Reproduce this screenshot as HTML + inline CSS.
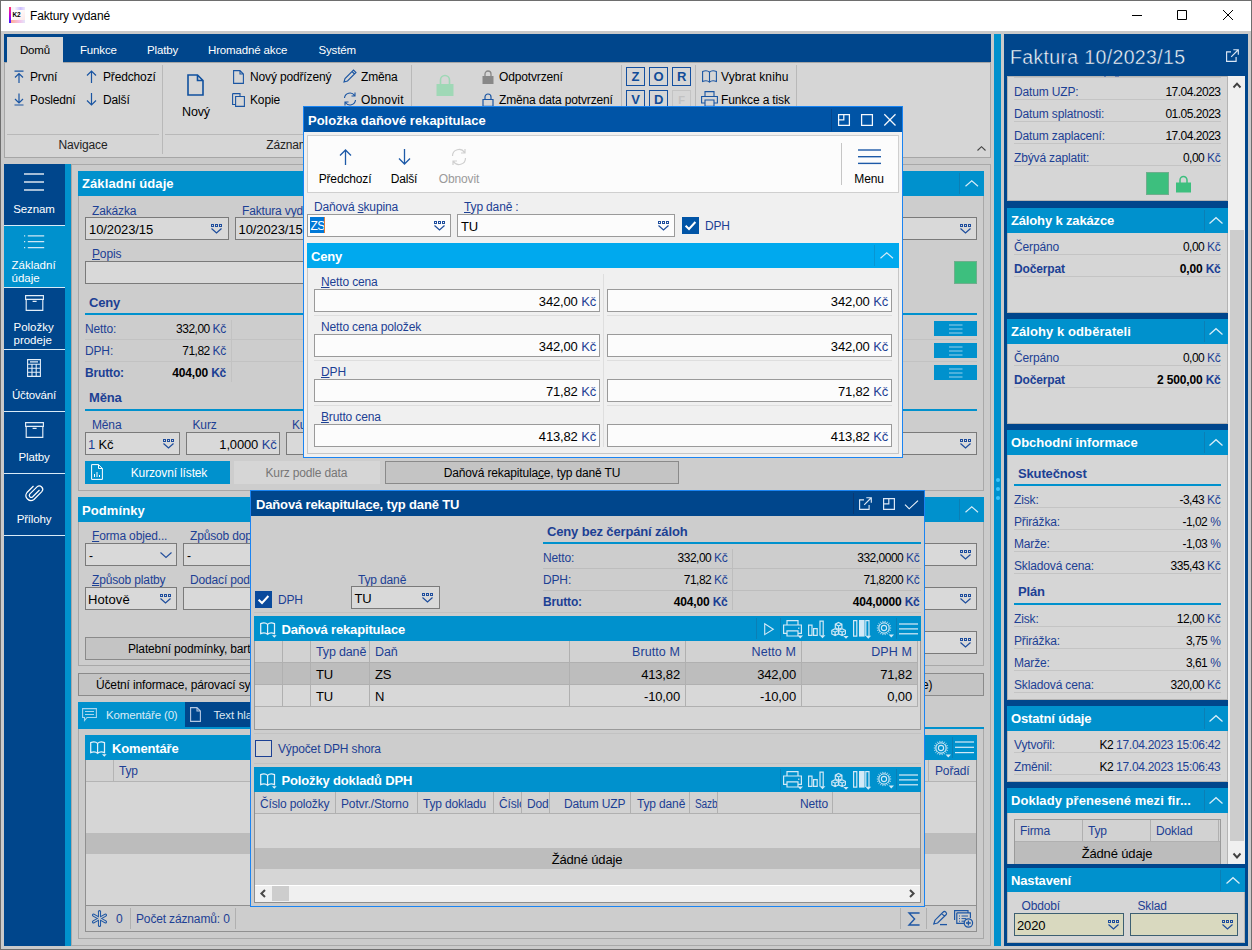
<!DOCTYPE html>
<html lang="cs"><head><meta charset="utf-8"><title>Faktury vydané</title>
<style>
*{box-sizing:border-box;margin:0;padding:0}
html,body{width:1252px;height:950px;overflow:hidden;background:#cacaca}
body{position:relative;font-family:"Liberation Sans",sans-serif;font-size:12px;color:#000;line-height:14px;letter-spacing:-0.15px}
.a{position:absolute}
.t{position:absolute;white-space:nowrap;line-height:14px;height:14px}
.b{font-weight:bold}
.w{color:#fff}
.bl{color:#1c4094}
.r{text-align:right}
.c{text-align:center}
.h13{font-size:13px}
.n{letter-spacing:-0.5px}
.n span{letter-spacing:-0.3px}
.n.b{letter-spacing:-0.15px}
.inp{position:absolute;border:1px solid #7a7a7a;background:#d9d9d9}
.inpw{position:absolute;border:1px solid #9a9a9a;background:#fcfcfc}
.sep{position:absolute;height:1px;background:#bcbcbc}
.hdr{position:absolute;background:#0091cd}
u{text-decoration:underline;text-underline-offset:1px}
svg{position:absolute;overflow:visible}
</style></head>
<body>
<div class="a" style="left:0px;top:0px;width:1252px;height:950px;background:#cacaca;"></div>
<div class="a" style="left:0px;top:0px;width:1252px;height:31px;background:#fff;"></div>
<div class="a" style="left:9px;top:7px;width:16px;height:16px;background:linear-gradient(135deg,#f6eef8 0%,#fff 40%,#fbe4e4 100%)"></div>
<div class="a" style="left:9px;top:7px;width:2px;height:16px;background:linear-gradient(#ff3c6e,#c800d8 50%,#3a1cff)"></div>
<div class="a" style="left:11px;top:20px;width:14px;height:3px;background:linear-gradient(90deg,#ff9a7a,#f3b6e8 60%,#dfe6ff);opacity:.8"></div>
<div class="a" style="left:14px;top:7px;width:11px;height:3px;background:linear-gradient(90deg,#fff,#b9a4ff 60%,#e8e0ff);opacity:.7"></div>
<div class="t b" style="left:12.5px;top:11px;font-size:6.5px;line-height:8px;height:8px;letter-spacing:-0.3px">K2</div>
<div class="t " style="left:30px;top:8.5px;font-size:12px;">Faktury vydané</div>
<svg style="left:1132px;top:15px" width="10" height="1" viewBox="0 0 10 1" ><path d="M0 0.5 H10" fill="none" stroke="#000" stroke-width="1" /></svg>
<svg style="left:1177px;top:10px" width="10" height="10" viewBox="0 0 10 10" ><path d="M0.5 0.5 H9.5 V9.5 H0.5 Z" fill="none" stroke="#000" stroke-width="1" /></svg>
<svg style="left:1223px;top:10px" width="10" height="10" viewBox="0 0 10 10" ><path d="M0 0 L10 10 M10 0 L0 10" fill="none" stroke="#000" stroke-width="1" /></svg>
<div class="a" style="left:4px;top:34px;width:987px;height:28px;background:#00468c;"></div>
<div class="a" style="left:4px;top:62px;width:987px;height:96px;background:#d6d6d6;border:1px solid #a6a6a6;"></div>
<div class="a" style="left:7px;top:37px;width:56px;height:26px;background:#d6d6d6;"></div>
<div class="t c " style="left:7.0px;width:56px;top:43px;font-size:11.5px;">Domů</div>
<div class="t w" style="left:80px;top:43px;font-size:11.5px;">Funkce</div>
<div class="t w" style="left:147px;top:43px;font-size:11.5px;">Platby</div>
<div class="t w" style="left:208px;top:43px;font-size:11.5px;">Hromadné akce</div>
<div class="t w" style="left:318.5px;top:43px;font-size:11.5px;">Systém</div>
<svg style="left:13.5px;top:70px" width="10" height="13" viewBox="0 0 10 13" ><path d="M0.5 1.2 H9.5 M5 3.5 V13 M1 7.5 L5 3.5 L9 7.5" fill="none" stroke="#1a55a2" stroke-width="1.2" /></svg>
<svg style="left:13.5px;top:93px" width="10" height="13" viewBox="0 0 10 13" ><path d="M0.5 12 H9.5 M5 0.5 V10 M1 6 L5 10 L9 6" fill="none" stroke="#1a55a2" stroke-width="1.2" /></svg>
<svg style="left:86px;top:70px" width="11" height="13" viewBox="0 0 11 13" ><path d="M5.5 1 V13 M1 5.5 L5.5 1 L10 5.5" fill="none" stroke="#1a55a2" stroke-width="1.2" /></svg>
<svg style="left:86px;top:93px" width="11" height="13" viewBox="0 0 11 13" ><path d="M5.5 0 V12 M1 7.5 L5.5 12 L10 7.5" fill="none" stroke="#1a55a2" stroke-width="1.2" /></svg>
<div class="t " style="left:30px;top:69.5px;">První</div>
<div class="t " style="left:30px;top:92.5px;">Poslední</div>
<div class="t " style="left:103px;top:69.5px;">Předchozí</div>
<div class="t " style="left:103px;top:92.5px;">Další</div>
<div class="a" style="left:7px;top:134px;width:152px;height:1px;background:#b9b9b9;"></div>
<div class="t c " style="left:-17.0px;width:200px;top:138px;color:#222">Navigace</div>
<div class="a" style="left:162px;top:65px;width:1px;height:89px;background:#b9b9b9;"></div>
<svg style="left:187px;top:73.5px" width="17" height="22" viewBox="0 0 17 22" ><path d="M1 1 H10.5 L16 6.5 V21 H1 Z M10.5 1 V6.5 H16" fill="none" stroke="#10509e" stroke-width="1.6" /></svg>
<div class="t c " style="left:166.0px;width:60px;top:105px;font-size:12.5px;">Nový</div>
<svg style="left:233px;top:70px" width="11" height="14" viewBox="0 0 11 14" ><path d="M0.6 0.6 H7 L10.4 4 V13.4 H0.6 Z M7 0.6 V4 H10.4" fill="none" stroke="#1a55a2" stroke-width="1.1" /></svg>
<svg style="left:232px;top:92.5px" width="13" height="14" viewBox="0 0 13 14" ><path d="M0.6 0.6 H8 V3 M0.6 0.6 V11.5 H3.5 M3.6 3.5 H12.4 V13.4 H3.6 Z" fill="none" stroke="#1a55a2" stroke-width="1.1" /></svg>
<div class="t " style="left:250px;top:69.5px;">Nový podřízený</div>
<div class="t " style="left:250px;top:92.5px;">Kopie</div>
<svg style="left:343px;top:69px" width="14" height="14" viewBox="0 0 14 14" ><path d="M1 13 L2 9.5 L10.5 1 L13 3.5 L4.5 12 Z M9 2.5 L11.5 5" fill="none" stroke="#1a55a2" stroke-width="1.1" /></svg>
<svg style="left:343px;top:92px" width="14" height="14" viewBox="0 0 14 14" ><path d="M1.5 6 A5.5 5.5 0 0 1 11.5 3.5 M12 0.5 V4 H8.5 M12.5 8 A5.5 5.5 0 0 1 2.5 10.5 M2 13.5 V10 H5.5" fill="none" stroke="#1a55a2" stroke-width="1.1" /></svg>
<div class="t " style="left:361px;top:69.5px;">Změna</div>
<div class="t " style="left:361px;top:92.5px;letter-spacing:.2px">Obnovit</div>
<div class="a" style="left:165px;top:134px;width:243px;height:1px;background:#b9b9b9;"></div>
<div class="t c " style="left:187.5px;width:200px;top:138px;color:#222">Záznam</div>
<div class="a" style="left:411px;top:65px;width:1px;height:89px;background:#b9b9b9;"></div>
<svg style="left:436px;top:74px" width="18" height="23" viewBox="0 0 18 23" ><path d="M4.5 10 V6 A4.5 4.5 0 0 1 13.5 6 V10" fill="none" stroke="#9fd8b6" stroke-width="1.6" /><rect x="0.5" y="10" width="17" height="12" fill="#9fd8b6"/></svg>
<svg style="left:482px;top:69.5px" width="12" height="14" viewBox="0 0 12 14" ><path d="M3 6 V4 A3 3 0 0 1 9 4 V6" fill="none" stroke="#888" stroke-width="1.3" /><rect x="0.5" y="6" width="11" height="8" fill="#888"/></svg>
<svg style="left:482px;top:92.5px" width="12" height="14" viewBox="0 0 12 14" ><path d="M3 6 V4 A3 3 0 0 1 9 4 V6 M1 6.5 H11 V13.4 H1 Z" fill="none" stroke="#1a55a2" stroke-width="1.2" /></svg>
<div class="t " style="left:499px;top:69.5px;">Odpotvrzení</div>
<div class="t " style="left:499px;top:92.5px;">Změna data potvrzení</div>
<div class="a" style="left:621px;top:65px;width:1px;height:89px;background:#b9b9b9;"></div>
<div class="a" style="left:626px;top:67px;width:19px;height:19px;border:1px solid #1450a0;border-width:1.5px"></div>
<div class="t c b" style="left:626.0px;width:19px;top:70px;font-size:13px;color:#114c98">Z</div>
<div class="a" style="left:649px;top:67px;width:19px;height:19px;border:1px solid #1450a0;border-width:1.5px"></div>
<div class="t c b" style="left:649.0px;width:19px;top:70px;font-size:13px;color:#114c98">O</div>
<div class="a" style="left:672px;top:67px;width:19px;height:19px;border:1px solid #1450a0;border-width:1.5px"></div>
<div class="t c b" style="left:672.0px;width:19px;top:70px;font-size:13px;color:#114c98">R</div>
<div class="a" style="left:626px;top:90px;width:19px;height:19px;border:1px solid #1450a0;border-width:1.5px"></div>
<div class="t c b" style="left:626.0px;width:19px;top:93px;font-size:13px;color:#114c98">V</div>
<div class="a" style="left:649px;top:90px;width:19px;height:19px;border:1px solid #1450a0;border-width:1.5px"></div>
<div class="t c b" style="left:649.0px;width:19px;top:93px;font-size:13px;color:#114c98">D</div>
<div class="a" style="left:672px;top:90px;width:19px;height:19px;border:1px solid #c4c4c4;"></div>
<div class="t c b" style="left:672.0px;width:19px;top:92.5px;font-size:11px;color:#c2c2c2">F</div>
<div class="a" style="left:695px;top:65px;width:1px;height:89px;background:#b9b9b9;"></div>
<svg style="left:702px;top:70px" width="15" height="13" viewBox="0 0 15 13" ><path d="M0.6 1.5 C3 0.5 6 0.7 7.5 2.2 C9 0.7 12 0.5 14.4 1.5 V11.5 C12 10.5 9 10.7 7.5 12.2 C6 10.7 3 10.5 0.6 11.5 Z M7.5 2.2 V12.2" fill="none" stroke="#1a55a2" stroke-width="1.1" /></svg>
<svg style="left:701px;top:91px" width="17" height="16" viewBox="0 0 17 16" ><path d="M4 5.5 V0.6 H13 V5.5 M4 12 H0.6 V5.5 H16.4 V12 H13 M4 9 H13 V15.4 H4 Z" fill="none" stroke="#1a55a2" stroke-width="1.1" /></svg>
<div class="t " style="left:721px;top:69.5px;letter-spacing:.1px">Vybrat knihu</div>
<div class="t " style="left:721px;top:92.5px;">Funkce a tisk</div>
<div class="a" style="left:796px;top:65px;width:1px;height:89px;background:#b9b9b9;"></div>
<svg style="left:976.5px;top:145.5px" width="9" height="5" viewBox="0 0 9 5" ><path d="M0.5 4.5 L4.5 0.7 L8.5 4.5" fill="none" stroke="#444" stroke-width="1.1" /></svg>
<div class="a" style="left:4px;top:164px;width:61px;height:782px;background:#00468c;"></div>
<div class="a" style="left:65px;top:164px;width:6px;height:782px;background:#0091cd;"></div>
<div class="a" style="left:4px;top:226px;width:61px;height:61px;background:#0091cd;"></div>
<div class="a" style="left:4px;top:225px;width:61px;height:1px;background:#d9ebf7;"></div>
<div class="a" style="left:4px;top:287px;width:61px;height:1px;background:#d9ebf7;"></div>
<div class="a" style="left:4px;top:349px;width:61px;height:1px;background:#d9ebf7;"></div>
<div class="a" style="left:4px;top:411px;width:61px;height:1px;background:#d9ebf7;"></div>
<div class="a" style="left:4px;top:473px;width:61px;height:1px;background:#d9ebf7;"></div>
<div class="a" style="left:4px;top:535px;width:61px;height:1px;background:#d9ebf7;"></div>
<svg style="left:24.0px;top:173.0px" width="20" height="18" viewBox="0 0 20 18" ><path d="M0 1 H20" fill="none" stroke="#fff" stroke-width="1.3" /><path d="M0 9 H20" fill="none" stroke="#fff" stroke-width="1.3" /><path d="M0 17 H20" fill="none" stroke="#fff" stroke-width="1.3" /></svg>
<div class="t c w" style="left:3.5px;width:61px;top:202px;font-size:11.5px;">Seznam</div>
<svg style="left:24px;top:234.5px" width="21" height="14" viewBox="0 0 21 14" ><path d="M0 0.8 H1.2 M3.8 0.8 H20.2" fill="none" stroke="#cfe7f5" stroke-width="1.2" /><path d="M0 6.7 H1.2 M3.8 6.7 H20.2" fill="none" stroke="#cfe7f5" stroke-width="1.2" /><path d="M0 12.600000000000001 H1.2 M3.8 12.600000000000001 H20.2" fill="none" stroke="#cfe7f5" stroke-width="1.2" /></svg>
<div class="t w" style="left:11.5px;top:258px;font-size:11.5px;letter-spacing:0px">Základní</div>
<div class="t w" style="left:11.5px;top:270.5px;font-size:11.5px;letter-spacing:0px">údaje</div>
<svg style="left:24.5px;top:295px" width="19" height="16" viewBox="0 0 19 16" ><path d="M0.6 0.6 H18.4 V4.3 H0.6 Z M1.2 4.3 V15.4 H17.8 V4.3 M7.6 6.4 H11.6" fill="none" stroke="#e4eef8" stroke-width="1.15" /></svg>
<div class="t w" style="left:13.5px;top:320px;font-size:11.5px;letter-spacing:0px">Položky</div>
<div class="t w" style="left:13.5px;top:333px;font-size:11.5px;letter-spacing:0px">prodeje</div>
<svg style="left:27px;top:359px" width="14" height="18" viewBox="0 0 14 18" ><path d="M0.6 0.6 H13.4 V17.4 H0.6 Z M0.6 5.2 H13.4 M0.6 9.3 H13.4 M0.6 13.3 H13.4 M5 5.2 V17.4 M9.2 5.2 V17.4 M3 2.9 H11" fill="none" stroke="#e4eef8" stroke-width="1.1" /></svg>
<div class="t c w" style="left:3.5px;width:61px;top:388px;font-size:11.5px;">Účtování</div>
<svg style="left:24.5px;top:422px" width="19" height="16" viewBox="0 0 19 16" ><path d="M0.6 0.6 H18.4 V4.3 H0.6 Z M1.2 4.3 V15.4 H17.8 V4.3 M7.6 6.4 H11.6" fill="none" stroke="#e4eef8" stroke-width="1.15" /></svg>
<div class="t c w" style="left:3.5px;width:61px;top:450px;font-size:11.5px;">Platby</div>
<svg style="left:26px;top:483.5px" width="18" height="20" viewBox="0 0 18 20" ><path d="M13.5 6 L6.5 13 A2 2 0 0 1 3.7 10.2 L11 2.9 A3.4 3.4 0 0 1 15.8 7.7 L8 15.5 A5 5 0 0 1 1 8.5 L7.5 2" fill="none" stroke="#fff" stroke-width="1.2" /></svg>
<div class="t c w" style="left:3.5px;width:61px;top:512px;font-size:11.5px;">Přílohy</div>
<div class="a" style="left:71px;top:164px;width:920px;height:782px;background:#cbcbcb;border:1px solid #a8a8a8;"></div>
<div class="a" style="left:78px;top:171px;width:906px;height:320px;background:#cdcdcd;border:1px solid #a8a8a8;"></div>
<div class="a" style="left:78px;top:171px;width:906px;height:25px;background:#0091cd;"></div>
<div class="t b w" style="left:82px;top:177px;font-size:13px;letter-spacing:0.1px">Základní údaje</div>
<div class="a" style="left:959px;top:173px;width:1px;height:21px;background:#0b7fb5;"></div>
<svg style="left:964.75px;top:180.1px" width="13.5" height="6.8" viewBox="0 0 13.5 6.8" ><path d="M0.5 6.3 L6.75 0.7 L13.0 6.3" fill="none" stroke="#d6ecf7" stroke-width="1.15" /></svg>
<div class="t bl" style="left:92px;top:204px;">Zakázka</div>
<div class="t bl" style="left:242px;top:204px;">Faktura vydaná</div>
<div class="inp" style="left:85px;top:217px;width:144px;height:23px;"></div>
<div class="t " style="left:89px;top:222.5px;font-size:13px;letter-spacing:-0.1px">10/2023/15</div>
<svg style="left:211px;top:224px" width="11" height="10" viewBox="0 0 11 10" ><rect x="0.5" y="0.5" width="2" height="2" fill="none" stroke="#1d4c9c" stroke-width="1"/><rect x="4.5" y="0.5" width="2" height="2" fill="none" stroke="#1d4c9c" stroke-width="1"/><rect x="8.5" y="0.5" width="2" height="2" fill="none" stroke="#1d4c9c" stroke-width="1"/><path d="M0.5 4.5 L5.5 9 L10.5 4.5" fill="none" stroke="#1d4c9c" stroke-width="1.2" /></svg>
<div class="inp" style="left:235px;top:217px;width:742px;height:23px;"></div>
<div class="t " style="left:238.5px;top:222.5px;font-size:13px;letter-spacing:-0.1px">10/2023/15</div>
<svg style="left:960px;top:224px" width="11" height="10" viewBox="0 0 11 10" ><rect x="0.5" y="0.5" width="2" height="2" fill="none" stroke="#1d4c9c" stroke-width="1"/><rect x="4.5" y="0.5" width="2" height="2" fill="none" stroke="#1d4c9c" stroke-width="1"/><rect x="8.5" y="0.5" width="2" height="2" fill="none" stroke="#1d4c9c" stroke-width="1"/><path d="M0.5 4.5 L5.5 9 L10.5 4.5" fill="none" stroke="#1d4c9c" stroke-width="1.2" /></svg>
<div class="t bl" style="left:92px;top:247px;"><u>P</u>opis</div>
<div class="inp" style="left:85px;top:261px;width:805px;height:23px;"></div>
<div class="a" style="left:954px;top:261px;width:23px;height:23px;background:#3dbf7e;border:1px solid #6fae8d;"></div>
<div class="t b bl" style="left:89px;top:295.5px;font-size:13px;">Ceny</div>
<div class="a" style="left:85px;top:313px;width:892px;height:2px;background:#0091cd;"></div>
<div class="t bl" style="left:85px;top:322px;">Netto:</div>
<div class="t r n" style="right:1026px;top:322px;">332,00 <span class="bl">Kč</span></div>
<div class="a" style="left:85px;top:339px;width:892px;height:1px;background:#c2c2c2;"></div>
<div class="a" style="left:934px;top:321px;width:43px;height:15px;background:#0091cd;"></div>
<svg style="left:948.75px;top:323.5px" width="13.5" height="10" viewBox="0 0 13.5 10" ><path d="M0 1 H13.5" fill="none" stroke="#bfe1f3" stroke-width="0.8" /><path d="M0 5 H13.5" fill="none" stroke="#bfe1f3" stroke-width="0.8" /><path d="M0 9 H13.5" fill="none" stroke="#bfe1f3" stroke-width="0.8" /></svg>
<div class="t bl" style="left:85px;top:344px;">DPH:</div>
<div class="t r n" style="right:1026px;top:344px;">71,82 <span class="bl">Kč</span></div>
<div class="a" style="left:85px;top:361px;width:892px;height:1px;background:#c2c2c2;"></div>
<div class="a" style="left:934px;top:343px;width:43px;height:15px;background:#0091cd;"></div>
<svg style="left:948.75px;top:345.5px" width="13.5" height="10" viewBox="0 0 13.5 10" ><path d="M0 1 H13.5" fill="none" stroke="#bfe1f3" stroke-width="0.8" /><path d="M0 5 H13.5" fill="none" stroke="#bfe1f3" stroke-width="0.8" /><path d="M0 9 H13.5" fill="none" stroke="#bfe1f3" stroke-width="0.8" /></svg>
<div class="t bl b" style="left:85px;top:366px;">Brutto:</div>
<div class="t r n b" style="right:1026px;top:366px;">404,00 <span class="bl">Kč</span></div>
<div class="a" style="left:934px;top:365px;width:43px;height:15px;background:#0091cd;"></div>
<svg style="left:948.75px;top:367.5px" width="13.5" height="10" viewBox="0 0 13.5 10" ><path d="M0 1 H13.5" fill="none" stroke="#bfe1f3" stroke-width="0.8" /><path d="M0 5 H13.5" fill="none" stroke="#bfe1f3" stroke-width="0.8" /><path d="M0 9 H13.5" fill="none" stroke="#bfe1f3" stroke-width="0.8" /></svg>
<div class="a" style="left:231px;top:320px;width:1px;height:62px;background:#c2c2c2;"></div>
<div class="t b bl" style="left:89px;top:391px;font-size:13px;">Měna</div>
<div class="a" style="left:85px;top:409px;width:892px;height:2px;background:#0091cd;"></div>
<div class="t bl" style="left:92px;top:418px;">Měna</div>
<div class="t bl" style="left:192.5px;top:418px;">Kurz</div>
<div class="t bl" style="left:292px;top:418px;">Kurz</div>
<div class="inp" style="left:85px;top:432px;width:95px;height:23px;"></div>
<div class="t " style="left:88px;top:437.5px;font-size:13px;"><span class="bl">1</span> Kč</div>
<svg style="left:163px;top:439px" width="11" height="10" viewBox="0 0 11 10" ><rect x="0.5" y="0.5" width="2" height="2" fill="none" stroke="#1d4c9c" stroke-width="1"/><rect x="4.5" y="0.5" width="2" height="2" fill="none" stroke="#1d4c9c" stroke-width="1"/><rect x="8.5" y="0.5" width="2" height="2" fill="none" stroke="#1d4c9c" stroke-width="1"/><path d="M0.5 4.5 L5.5 9 L10.5 4.5" fill="none" stroke="#1d4c9c" stroke-width="1.2" /></svg>
<div class="inp" style="left:186px;top:432px;width:94px;height:23px;"></div>
<div class="t r " style="right:975.5px;top:437.5px;font-size:13px;">1,0000 <span class="bl">Kč</span></div>
<div class="inp" style="left:286px;top:432px;width:691px;height:23px;"></div>
<svg style="left:960px;top:439px" width="11" height="10" viewBox="0 0 11 10" ><rect x="0.5" y="0.5" width="2" height="2" fill="none" stroke="#1d4c9c" stroke-width="1"/><rect x="4.5" y="0.5" width="2" height="2" fill="none" stroke="#1d4c9c" stroke-width="1"/><rect x="8.5" y="0.5" width="2" height="2" fill="none" stroke="#1d4c9c" stroke-width="1"/><path d="M0.5 4.5 L5.5 9 L10.5 4.5" fill="none" stroke="#1d4c9c" stroke-width="1.2" /></svg>
<div class="a" style="left:85px;top:461px;width:145px;height:23px;background:#0091cd;"></div>
<svg style="left:91px;top:464px" width="12" height="16" viewBox="0 0 12 16" ><path d="M0.6 0.6 H7.5 L11.4 4.5 V15.4 H0.6 Z M7.5 0.6 V4.5 H11.4 M3.5 13 V10 M6 13 V8 M8.5 13 V11" fill="none" stroke="#fff" stroke-width="1" /></svg>
<div class="t c w" style="left:109.0px;width:120px;top:466px;">Kurzovní lístek</div>
<div class="a" style="left:234px;top:461px;width:146px;height:23px;background:#d6d6d6;"></div>
<div class="t " style="left:265.5px;top:466px;color:#777">Kurz podle data</div>
<div class="a" style="left:385px;top:461px;width:294px;height:23px;background:#c4c4c4;border:1px solid #8a8a8a;"></div>
<div class="t c " style="left:387.0px;width:290px;top:466px;">Daňová rekapitula<u>c</u>e, typ daně TU</div>
<div class="a" style="left:78px;top:497px;width:906px;height:169px;background:#cdcdcd;border:1px solid #a8a8a8;"></div>
<div class="a" style="left:78px;top:497px;width:906px;height:25px;background:#0091cd;"></div>
<div class="t b w" style="left:82px;top:503.5px;font-size:13px;letter-spacing:0.1px">Podmínky</div>
<div class="a" style="left:959px;top:499px;width:1px;height:21px;background:#0b7fb5;"></div>
<svg style="left:964.75px;top:506.1px" width="13.5" height="6.8" viewBox="0 0 13.5 6.8" ><path d="M0.5 6.3 L6.75 0.7 L13.0 6.3" fill="none" stroke="#d6ecf7" stroke-width="1.15" /></svg>
<div class="t bl" style="left:92px;top:528.5px;"><u>F</u>orma objed...</div>
<div class="t bl" style="left:190px;top:528.5px;">Způsob dopravy</div>
<div class="inp" style="left:85px;top:543px;width:92px;height:23px;"></div>
<div class="t " style="left:89px;top:548.5px;">-</div>
<svg style="left:159.5px;top:551.5px" width="12" height="6" viewBox="0 0 12 6" ><path d="M0.5 0.5 L6.0 5.5 L11.5 0.5" fill="none" stroke="#234f9c" stroke-width="1.15" /></svg>
<div class="inp" style="left:183px;top:543px;width:794px;height:23px;"></div>
<div class="t " style="left:187px;top:548.5px;">-</div>
<svg style="left:960px;top:550px" width="11" height="10" viewBox="0 0 11 10" ><rect x="0.5" y="0.5" width="2" height="2" fill="none" stroke="#1d4c9c" stroke-width="1"/><rect x="4.5" y="0.5" width="2" height="2" fill="none" stroke="#1d4c9c" stroke-width="1"/><rect x="8.5" y="0.5" width="2" height="2" fill="none" stroke="#1d4c9c" stroke-width="1"/><path d="M0.5 4.5 L5.5 9 L10.5 4.5" fill="none" stroke="#1d4c9c" stroke-width="1.2" /></svg>
<div class="t bl" style="left:92px;top:573px;"><u>Z</u>působ platby</div>
<div class="t bl" style="left:190px;top:573px;">Dodací podmínky</div>
<div class="inp" style="left:85px;top:587px;width:92px;height:23px;"></div>
<div class="t " style="left:88px;top:592.5px;font-size:13px;letter-spacing:.1px">Hotově</div>
<svg style="left:160px;top:594px" width="11" height="10" viewBox="0 0 11 10" ><rect x="0.5" y="0.5" width="2" height="2" fill="none" stroke="#1d4c9c" stroke-width="1"/><rect x="4.5" y="0.5" width="2" height="2" fill="none" stroke="#1d4c9c" stroke-width="1"/><rect x="8.5" y="0.5" width="2" height="2" fill="none" stroke="#1d4c9c" stroke-width="1"/><path d="M0.5 4.5 L5.5 9 L10.5 4.5" fill="none" stroke="#1d4c9c" stroke-width="1.2" /></svg>
<div class="inp" style="left:183px;top:587px;width:794px;height:23px;"></div>
<svg style="left:960px;top:594px" width="11" height="10" viewBox="0 0 11 10" ><rect x="0.5" y="0.5" width="2" height="2" fill="none" stroke="#1d4c9c" stroke-width="1"/><rect x="4.5" y="0.5" width="2" height="2" fill="none" stroke="#1d4c9c" stroke-width="1"/><rect x="8.5" y="0.5" width="2" height="2" fill="none" stroke="#1d4c9c" stroke-width="1"/><path d="M0.5 4.5 L5.5 9 L10.5 4.5" fill="none" stroke="#1d4c9c" stroke-width="1.2" /></svg>
<div class="inp" style="left:800px;top:631px;width:177px;height:23px;"></div>
<svg style="left:960px;top:638px" width="11" height="10" viewBox="0 0 11 10" ><rect x="0.5" y="0.5" width="2" height="2" fill="none" stroke="#1d4c9c" stroke-width="1"/><rect x="4.5" y="0.5" width="2" height="2" fill="none" stroke="#1d4c9c" stroke-width="1"/><rect x="8.5" y="0.5" width="2" height="2" fill="none" stroke="#1d4c9c" stroke-width="1"/><path d="M0.5 4.5 L5.5 9 L10.5 4.5" fill="none" stroke="#1d4c9c" stroke-width="1.2" /></svg>
<div class="a" style="left:85px;top:637px;width:675px;height:23px;background:#c4c4c4;border:1px solid #8a8a8a;"></div>
<div class="t " style="left:128px;top:641.5px;">Platební podmínky, barter</div>
<div class="a" style="left:78px;top:673px;width:906px;height:23px;background:#c4c4c4;border:1px solid #8a8a8a;"></div>
<div class="t " style="left:96px;top:677.5px;">Účetní informace, párovací symboly</div>
<div class="t " style="left:922px;top:677.5px;">e)</div>
<div class="a" style="left:78px;top:727px;width:906px;height:212px;background:#cbcbcb;border:1px solid #a8a8a8;"></div>
<div class="a" style="left:78px;top:702px;width:107px;height:25px;background:#0091cd;"></div>
<div class="a" style="left:185px;top:702px;width:515px;height:25px;background:#00468c;"></div>
<div class="a" style="left:78px;top:727px;width:906px;height:2px;background:#0091cd;"></div>
<svg style="left:82px;top:708px" width="15" height="14" viewBox="0 0 15 14" ><path d="M0.6 0.6 H14.4 V9.5 H5 L2.5 12.5 V9.5 H0.6 Z M3 3.5 H12 M3 6.5 H12" fill="none" stroke="#a9d6ee" stroke-width="1.1" /></svg>
<div class="t " style="left:106px;top:707.5px;font-size:11.5px;color:#dcebf6">Komentáře (0)</div>
<svg style="left:190px;top:707px" width="11" height="15" viewBox="0 0 11 15" ><path d="M0.6 0.6 H7 L10.4 4 V14.4 H0.6 Z M7 0.6 V4 H10.4" fill="none" stroke="#b4c8e2" stroke-width="1.1" /></svg>
<div class="t " style="left:213.5px;top:707.5px;font-size:11.5px;color:#dce6f2">Text hlavičky</div>
<div class="a" style="left:85px;top:735px;width:892px;height:171px;background:#d6d6d6;border:1px solid #909090;"></div>
<div class="a" style="left:85px;top:735px;width:892px;height:25px;background:#0091cd;"></div>
<svg style="left:90px;top:741px" width="18" height="17" viewBox="0 0 18 17" ><path d="M0.7 1.6 C3 0.6 6 0.8 7.6 2.4 C9.2 0.8 12.2 0.6 14.5 1.6 V11.6 C12.2 10.6 9.2 10.8 7.6 12.4 C6 10.8 3 10.6 0.7 11.6 Z M7.6 2.4 V12.4" fill="none" stroke="#e6f1f9" stroke-width="1.25" /><path d="M12 13.2 H16.6 L14.3 15.8 Z" fill="#e6f1f9" /></svg>
<div class="t b w" style="left:112px;top:741.5px;font-size:13px;">Komentáře</div>
<svg style="left:932.6px;top:739.5px" width="19" height="19" viewBox="0 0 19 19" ><path d="M13.30 8.00 L15.20 8.00" fill="none" stroke="#d2e9f6" stroke-width="0.9" /><path d="M12.98 9.81 L14.77 10.46" fill="none" stroke="#d2e9f6" stroke-width="0.9" /><path d="M12.06 11.41 L13.52 12.63" fill="none" stroke="#d2e9f6" stroke-width="0.9" /><path d="M10.65 12.59 L11.60 14.24" fill="none" stroke="#d2e9f6" stroke-width="0.9" /><path d="M8.92 13.22 L9.25 15.09" fill="none" stroke="#d2e9f6" stroke-width="0.9" /><path d="M7.08 13.22 L6.75 15.09" fill="none" stroke="#d2e9f6" stroke-width="0.9" /><path d="M5.35 12.59 L4.40 14.24" fill="none" stroke="#d2e9f6" stroke-width="0.9" /><path d="M3.94 11.41 L2.48 12.63" fill="none" stroke="#d2e9f6" stroke-width="0.9" /><path d="M3.02 9.81 L1.23 10.46" fill="none" stroke="#d2e9f6" stroke-width="0.9" /><path d="M2.70 8.00 L0.80 8.00" fill="none" stroke="#d2e9f6" stroke-width="0.9" /><path d="M3.02 6.19 L1.23 5.54" fill="none" stroke="#d2e9f6" stroke-width="0.9" /><path d="M3.94 4.59 L2.48 3.37" fill="none" stroke="#d2e9f6" stroke-width="0.9" /><path d="M5.35 3.41 L4.40 1.76" fill="none" stroke="#d2e9f6" stroke-width="0.9" /><path d="M7.08 2.78 L6.75 0.91" fill="none" stroke="#d2e9f6" stroke-width="0.9" /><path d="M8.92 2.78 L9.25 0.91" fill="none" stroke="#d2e9f6" stroke-width="0.9" /><path d="M10.65 3.41 L11.60 1.76" fill="none" stroke="#d2e9f6" stroke-width="0.9" /><path d="M12.06 4.59 L13.52 3.37" fill="none" stroke="#d2e9f6" stroke-width="0.9" /><path d="M12.98 6.19 L14.77 5.54" fill="none" stroke="#d2e9f6" stroke-width="0.9" /><circle cx="8" cy="8" r="5.1" fill="none" stroke="#d2e9f6" stroke-width="1"/><circle cx="8" cy="8" r="2.6" fill="none" stroke="#d2e9f6" stroke-width="1.1"/><path d="M12.6 14.6 H18.0 L15.3 17.6 Z" fill="#d2e9f6" /></svg>
<div class="a" style="left:952px;top:737px;width:1px;height:21px;background:#0b7fb5;"></div>
<svg style="left:955.0px;top:741.2px" width="19" height="12.6" viewBox="0 0 19 12.6" ><path d="M0 1.0 H19" fill="none" stroke="#d2e9f6" stroke-width="1.25" /><path d="M0 6.3 H19" fill="none" stroke="#d2e9f6" stroke-width="1.25" /><path d="M0 11.6 H19" fill="none" stroke="#d2e9f6" stroke-width="1.25" /></svg>
<div class="a" style="left:86px;top:760px;width:890px;height:21px;background:#d2d2d2;"></div>
<div class="a" style="left:86px;top:781px;width:890px;height:1px;background:#b4b4b4;"></div>
<div class="a" style="left:113px;top:760px;width:1px;height:21px;background:#b4b4b4;"></div>
<div class="a" style="left:928px;top:760px;width:1px;height:21px;background:#b4b4b4;"></div>
<div class="t bl" style="left:119px;top:763.5px;">Typ</div>
<div class="t bl" style="left:935px;top:763.5px;">Pořadí</div>
<div class="a" style="left:86px;top:833px;width:890px;height:21px;background:#bcbcbc;"></div>
<div class="a" style="left:85px;top:905px;width:892px;height:27px;background:#cdcdcd;border:1px solid #909090;"></div>
<svg style="left:92px;top:911px" width="15" height="15" viewBox="0 0 15 15" ><path d="M7.5 7.5 L7.50 14.40" fill="none" stroke="#1d56a4" stroke-width="3.1" stroke-linecap="round"/><path d="M7.5 7.5 L1.52 10.95" fill="none" stroke="#1d56a4" stroke-width="3.1" stroke-linecap="round"/><path d="M7.5 7.5 L1.52 4.05" fill="none" stroke="#1d56a4" stroke-width="3.1" stroke-linecap="round"/><path d="M7.5 7.5 L7.50 0.60" fill="none" stroke="#1d56a4" stroke-width="3.1" stroke-linecap="round"/><path d="M7.5 7.5 L13.48 4.05" fill="none" stroke="#1d56a4" stroke-width="3.1" stroke-linecap="round"/><path d="M7.5 7.5 L13.48 10.95" fill="none" stroke="#1d56a4" stroke-width="3.1" stroke-linecap="round"/><path d="M7.5 7.5 L7.50 14.20" fill="none" stroke="#cdcdcd" stroke-width="1.1" stroke-linecap="round"/><path d="M7.5 7.5 L1.70 10.85" fill="none" stroke="#cdcdcd" stroke-width="1.1" stroke-linecap="round"/><path d="M7.5 7.5 L1.70 4.15" fill="none" stroke="#cdcdcd" stroke-width="1.1" stroke-linecap="round"/><path d="M7.5 7.5 L7.50 0.80" fill="none" stroke="#cdcdcd" stroke-width="1.1" stroke-linecap="round"/><path d="M7.5 7.5 L13.30 4.15" fill="none" stroke="#cdcdcd" stroke-width="1.1" stroke-linecap="round"/><path d="M7.5 7.5 L13.30 10.85" fill="none" stroke="#cdcdcd" stroke-width="1.1" stroke-linecap="round"/></svg>
<div class="t bl" style="left:116px;top:912px;">0</div>
<div class="t bl" style="left:136px;top:912px;">Počet záznamů: 0</div>
<div class="a" style="left:130px;top:908px;width:1px;height:21px;background:#b0b0b0;"></div>
<div class="a" style="left:235px;top:908px;width:1px;height:21px;background:#b0b0b0;"></div>
<div class="a" style="left:900px;top:908px;width:1px;height:21px;background:#b0b0b0;"></div>
<div class="a" style="left:926px;top:908px;width:1px;height:21px;background:#b0b0b0;"></div>
<svg style="left:907.5px;top:911.5px" width="13" height="14" viewBox="0 0 13 14" ><path d="M11.6 1 H1 L6.6 7 L1 13 H11.6" fill="none" stroke="#1d56a4" stroke-width="1.4" /></svg>
<svg style="left:932px;top:910px" width="16" height="16" viewBox="0 0 16 16" ><path d="M1.8 14 L3 10.2 L11.2 2 A1.6 1.6 0 0 1 13.6 2 L14 2.4 A1.6 1.6 0 0 1 14 4.8 L5.6 13 Z M9.8 3.6 L12.4 6.2" fill="none" stroke="#1d56a4" stroke-width="1.2" /><path d="M8 14.6 H15" fill="none" stroke="#1d56a4" stroke-width="1.3" /></svg>
<svg style="left:954px;top:910px" width="20" height="18" viewBox="0 0 20 18" ><path d="M0.6 10 V0.6 H14 V2.6 M2.8 2.8 H16.4 V8 M2.8 2.8 V13.4 H10" fill="none" stroke="#1d56a4" stroke-width="1.2" /><path d="M5 6 H6 M7.5 6 H14 M5 8.6 H6 M7.5 8.6 H12 M5 11.2 H6 M7.5 11.2 H10" fill="none" stroke="#1d56a4" stroke-width="1" /><circle cx="14.4" cy="13" r="4.2" fill="#cdcdcd" stroke="#1d56a4" stroke-width="1.2"/><path d="M14.4 10.6 V15.4 M12 13 H16.8" fill="none" stroke="#1d56a4" stroke-width="1.3" /></svg>
<div class="a" style="left:994px;top:34px;width:7px;height:912px;background:#0091cd;"></div>
<div class="a" style="left:995.5px;top:478px;width:4px;height:4px;border-radius:2px;background:#3cc4fb"></div>
<div class="a" style="left:995.5px;top:487px;width:4px;height:4px;border-radius:2px;background:#3cc4fb"></div>
<div class="a" style="left:995.5px;top:496px;width:4px;height:4px;border-radius:2px;background:#3cc4fb"></div>
<div class="a" style="left:1004px;top:34px;width:244px;height:912px;background:#00468c;"></div>
<div class="t w" style="left:1010px;top:50px;font-size:19.5px;height:24px;line-height:24px;top:45px;letter-spacing:0.35px;-webkit-text-stroke:0.45px #00468c">Faktura 10/2023/15</div>
<svg style="left:1226px;top:49px" width="13" height="13" viewBox="0 0 13 13" ><path d="M5 2.9 H0.6 V12.4 H10.1 V8 M5.2 7.8 L12 1 M7.3 0.7 H12.3 V5.7" fill="none" stroke="#dbe7f5" stroke-width="1.15" /></svg>
<div class="a" style="left:1007px;top:76px;width:221px;height:788px;background:#00468c;"></div>
<div class="a" style="left:1228px;top:76px;width:17px;height:788px;background:#f0f0f0;"></div>
<div class="a" style="left:1230px;top:230px;width:14px;height:611px;background:#cdcdcd;"></div>
<svg style="left:1232.5px;top:82.5px" width="8" height="5" viewBox="0 0 8 5" ><path d="M0.5 4.5 L4.0 0.7 L7.5 4.5" fill="none" stroke="#404040" stroke-width="1.9" /></svg>
<svg style="left:1232.5px;top:853.0px" width="8" height="5" viewBox="0 0 8 5" ><path d="M0.5 0.5 L4.0 4.5 L7.5 0.5" fill="none" stroke="#404040" stroke-width="1.9" /></svg>
<div class="a" style="left:1007px;top:76px;width:221px;height:125px;background:#d6d6d6;border:1px solid #b4b4b4;"></div>
<div class="a" style="left:1014px;top:77px;width:207px;height:1px;background:#c4c4c4;"></div>
<div class="a" style="left:1104px;top:76px;width:2px;height:1px;background:#6b7fae;"></div>
<div class="a" style="left:1115px;top:76px;width:4px;height:1px;background:#6b7fae;"></div>
<div class="t bl" style="left:1014px;top:85px;">Datum UZP:</div>
<div class="t r n" style="right:31.5px;top:85px;">17.04.2023</div>
<div class="a" style="left:1014px;top:99px;width:207px;height:1px;background:#c4c4c4;"></div>
<div class="t bl" style="left:1014px;top:107px;">Datum splatnosti:</div>
<div class="t r n" style="right:31.5px;top:107px;">01.05.2023</div>
<div class="a" style="left:1014px;top:121px;width:207px;height:1px;background:#c4c4c4;"></div>
<div class="t bl" style="left:1014px;top:129px;">Datum zaplacení:</div>
<div class="t r n" style="right:31.5px;top:129px;">17.04.2023</div>
<div class="a" style="left:1014px;top:143px;width:207px;height:1px;background:#c4c4c4;"></div>
<div class="t bl" style="left:1014px;top:151px;">Zbývá zaplatit:</div>
<div class="t r n" style="right:31.5px;top:151px;">0,00 <span class="bl">Kč</span></div>
<div class="a" style="left:1014px;top:165px;width:207px;height:1px;background:#c4c4c4;"></div>
<div class="a" style="left:1146px;top:172px;width:23px;height:23px;background:#3dbf7e;border:1px solid #6fae8d;"></div>
<svg style="left:1176px;top:175px" width="15" height="18" viewBox="0 0 15 18" ><path d="M4 8 V5 A3.5 3.5 0 0 1 11 5 V8" fill="none" stroke="#3dbf7e" stroke-width="1.5" /><rect x="0" y="7.5" width="15" height="10" fill="#3dbf7e"/></svg>
<div class="a" style="left:1007px;top:208px;width:221px;height:25px;background:#0091cd;"></div>
<div class="t b w" style="left:1011px;top:213.5px;font-size:13px;letter-spacing:-0.15px">Zálohy k zakázce</div>
<div class="a" style="left:1203.5px;top:210px;width:1.0px;height:21px;background:#0b7fb5;"></div>
<svg style="left:1209.25px;top:217.0px" width="14" height="7" viewBox="0 0 14 7" ><path d="M0.5 6.5 L7.0 0.7 L13.5 6.5" fill="none" stroke="#d6ecf7" stroke-width="1.3" /></svg>
<div class="a" style="left:1007px;top:233px;width:221px;height:80px;background:#d6d6d6;border:1px solid #b4b4b4;border-top:none"></div>
<div class="t bl" style="left:1014px;top:240px;">Čerpáno</div>
<div class="t r n" style="right:31.5px;top:240px;">0,00 <span class="bl">Kč</span></div>
<div class="a" style="left:1014px;top:254px;width:207px;height:1px;background:#c4c4c4;"></div>
<div class="t bl b" style="left:1014px;top:262px;">Dočerpat</div>
<div class="t r n b" style="right:31.5px;top:262px;">0,00 <span class="bl">Kč</span></div>
<div class="a" style="left:1014px;top:276px;width:207px;height:1px;background:#c4c4c4;"></div>
<div class="a" style="left:1007px;top:319px;width:221px;height:25px;background:#0091cd;"></div>
<div class="t b w" style="left:1011px;top:324.5px;font-size:13px;letter-spacing:0.08px">Zálohy k odběrateli</div>
<div class="a" style="left:1203.5px;top:321px;width:1.0px;height:21px;background:#0b7fb5;"></div>
<svg style="left:1209.25px;top:328.0px" width="14" height="7" viewBox="0 0 14 7" ><path d="M0.5 6.5 L7.0 0.7 L13.5 6.5" fill="none" stroke="#d6ecf7" stroke-width="1.3" /></svg>
<div class="a" style="left:1007px;top:344px;width:221px;height:80px;background:#d6d6d6;border:1px solid #b4b4b4;border-top:none"></div>
<div class="t bl" style="left:1014px;top:351px;">Čerpáno</div>
<div class="t r n" style="right:31.5px;top:351px;">0,00 <span class="bl">Kč</span></div>
<div class="a" style="left:1014px;top:365px;width:207px;height:1px;background:#c4c4c4;"></div>
<div class="t bl b" style="left:1014px;top:373px;">Dočerpat</div>
<div class="t r n b" style="right:31.5px;top:373px;">2 500,00 <span class="bl">Kč</span></div>
<div class="a" style="left:1014px;top:387px;width:207px;height:1px;background:#c4c4c4;"></div>
<div class="a" style="left:1007px;top:430px;width:221px;height:25px;background:#0091cd;"></div>
<div class="t b w" style="left:1011px;top:435.5px;font-size:13px;letter-spacing:0.02px">Obchodní informace</div>
<div class="a" style="left:1203.5px;top:432px;width:1.0px;height:21px;background:#0b7fb5;"></div>
<svg style="left:1209.25px;top:439.0px" width="14" height="7" viewBox="0 0 14 7" ><path d="M0.5 6.5 L7.0 0.7 L13.5 6.5" fill="none" stroke="#d6ecf7" stroke-width="1.3" /></svg>
<div class="a" style="left:1007px;top:455px;width:221px;height:245px;background:#d6d6d6;border:1px solid #b4b4b4;border-top:none"></div>
<div class="t b bl" style="left:1018px;top:466.5px;font-size:13px;">Skutečnost</div>
<div class="a" style="left:1014px;top:484px;width:207px;height:2px;background:#0091cd;"></div>
<div class="t bl" style="left:1014px;top:493px;">Zisk:</div>
<div class="t r n" style="right:31.5px;top:493px;">-3,43 <span class="bl">Kč</span></div>
<div class="a" style="left:1014px;top:507px;width:207px;height:1px;background:#c4c4c4;"></div>
<div class="t bl" style="left:1014px;top:515px;">Přirážka:</div>
<div class="t r n" style="right:31.5px;top:515px;">-1,02 <span class="bl">%</span></div>
<div class="a" style="left:1014px;top:529px;width:207px;height:1px;background:#c4c4c4;"></div>
<div class="t bl" style="left:1014px;top:537px;">Marže:</div>
<div class="t r n" style="right:31.5px;top:537px;">-1,03 <span class="bl">%</span></div>
<div class="a" style="left:1014px;top:551px;width:207px;height:1px;background:#c4c4c4;"></div>
<div class="t bl" style="left:1014px;top:559px;">Skladová cena:</div>
<div class="t r n" style="right:31.5px;top:559px;">335,43 <span class="bl">Kč</span></div>
<div class="a" style="left:1014px;top:573px;width:207px;height:1px;background:#c4c4c4;"></div>
<div class="t b bl" style="left:1018px;top:585px;font-size:13px;">Plán</div>
<div class="a" style="left:1014px;top:603px;width:207px;height:2px;background:#0091cd;"></div>
<div class="t bl" style="left:1014px;top:612px;">Zisk:</div>
<div class="t r n" style="right:31.5px;top:612px;">12,00 <span class="bl">Kč</span></div>
<div class="a" style="left:1014px;top:626px;width:207px;height:1px;background:#c4c4c4;"></div>
<div class="t bl" style="left:1014px;top:634px;">Přirážka:</div>
<div class="t r n" style="right:31.5px;top:634px;">3,75 <span class="bl">%</span></div>
<div class="a" style="left:1014px;top:648px;width:207px;height:1px;background:#c4c4c4;"></div>
<div class="t bl" style="left:1014px;top:656px;">Marže:</div>
<div class="t r n" style="right:31.5px;top:656px;">3,61 <span class="bl">%</span></div>
<div class="a" style="left:1014px;top:670px;width:207px;height:1px;background:#c4c4c4;"></div>
<div class="t bl" style="left:1014px;top:678px;">Skladová cena:</div>
<div class="t r n" style="right:31.5px;top:678px;">320,00 <span class="bl">Kč</span></div>
<div class="a" style="left:1014px;top:692px;width:207px;height:1px;background:#c4c4c4;"></div>
<div class="a" style="left:1007px;top:706px;width:221px;height:25px;background:#0091cd;"></div>
<div class="t b w" style="left:1011px;top:711.5px;font-size:13px;letter-spacing:-0.15px">Ostatní údaje</div>
<div class="a" style="left:1203.5px;top:708px;width:1.0px;height:21px;background:#0b7fb5;"></div>
<svg style="left:1209.25px;top:715.0px" width="14" height="7" viewBox="0 0 14 7" ><path d="M0.5 6.5 L7.0 0.7 L13.5 6.5" fill="none" stroke="#d6ecf7" stroke-width="1.3" /></svg>
<div class="a" style="left:1007px;top:731px;width:221px;height:51px;background:#d6d6d6;border:1px solid #b4b4b4;border-top:none"></div>
<div class="t bl" style="left:1014px;top:738px;">Vytvořil:</div>
<div class="t r n" style="right:31.5px;top:738px;">K2 <span class="bl">17.04.2023 15:06:42</span></div>
<div class="a" style="left:1014px;top:752px;width:207px;height:1px;background:#c4c4c4;"></div>
<div class="t bl" style="left:1014px;top:760px;">Změnil:</div>
<div class="t r n" style="right:31.5px;top:760px;">K2 <span class="bl">17.04.2023 15:06:43</span></div>
<div class="a" style="left:1014px;top:774px;width:207px;height:1px;background:#c4c4c4;"></div>
<div class="a" style="left:1007px;top:788px;width:221px;height:25px;background:#0091cd;"></div>
<div class="t b w" style="left:1011px;top:793.5px;font-size:13px;letter-spacing:0.05px">Doklady přenesené mezi fir...</div>
<div class="a" style="left:1203.5px;top:790px;width:1.0px;height:21px;background:#0b7fb5;"></div>
<svg style="left:1209.25px;top:797.0px" width="14" height="7" viewBox="0 0 14 7" ><path d="M0.5 6.5 L7.0 0.7 L13.5 6.5" fill="none" stroke="#d6ecf7" stroke-width="1.3" /></svg>
<div class="a" style="left:1007px;top:813px;width:221px;height:51px;background:#d6d6d6;border:1px solid #b4b4b4;border-top:none;border-bottom:none"></div>
<div class="a" style="left:1014px;top:819px;width:207px;height:45px;background:#d2d2d2;border:1px solid #9a9a9a;border-bottom:none"></div>
<div class="a" style="left:1015px;top:842px;width:205px;height:22px;background:#bcbcbc;"></div>
<div class="a" style="left:1015px;top:841px;width:205px;height:1px;background:#b0b0b0;"></div>
<div class="a" style="left:1082px;top:820px;width:1px;height:21px;background:#b0b0b0;"></div>
<div class="a" style="left:1150px;top:820px;width:1px;height:21px;background:#b0b0b0;"></div>
<div class="a" style="left:1218px;top:820px;width:1px;height:21px;background:#b0b0b0;"></div>
<div class="t bl" style="left:1020px;top:823.5px;">Firma</div>
<div class="t bl" style="left:1088px;top:823.5px;">Typ</div>
<div class="t bl" style="left:1156px;top:823.5px;">Doklad</div>
<div class="t c " style="left:1057.0px;width:120px;top:846.5px;font-size:13px;">Žádné údaje</div>
<div class="a" style="left:1007px;top:868px;width:238px;height:25px;background:#0091cd;"></div>
<div class="t b w" style="left:1011px;top:873.5px;font-size:13px;letter-spacing:-0.15px">Nastavení</div>
<div class="a" style="left:1219.5px;top:870px;width:1.0px;height:21px;background:#0b7fb5;"></div>
<svg style="left:1225.75px;top:877.0px" width="14" height="7" viewBox="0 0 14 7" ><path d="M0.5 6.5 L7.0 0.7 L13.5 6.5" fill="none" stroke="#d6ecf7" stroke-width="1.3" /></svg>
<div class="a" style="left:1007px;top:892px;width:238px;height:51px;background:#d6d6d6;border:1px solid #b4b4b4;border-top:none"></div>
<div class="t bl" style="left:1021.5px;top:898.5px;">Období</div>
<div class="t bl" style="left:1137.5px;top:898.5px;">Sklad</div>
<div class="a" style="left:1014px;top:913px;width:110px;height:23px;background:#d9d9bf;border:1px solid #3d5f72;"></div>
<div class="t " style="left:1017px;top:919px;font-size:13px;">2020</div>
<svg style="left:1108px;top:920px" width="11" height="10" viewBox="0 0 11 10" ><rect x="0.5" y="0.5" width="2" height="2" fill="none" stroke="#1d4c9c" stroke-width="1"/><rect x="4.5" y="0.5" width="2" height="2" fill="none" stroke="#1d4c9c" stroke-width="1"/><rect x="8.5" y="0.5" width="2" height="2" fill="none" stroke="#1d4c9c" stroke-width="1"/><path d="M0.5 4.5 L5.5 9 L10.5 4.5" fill="none" stroke="#1d4c9c" stroke-width="1.2" /></svg>
<div class="a" style="left:1130px;top:913px;width:108px;height:23px;background:#d9d9bf;border:1px solid #3d5f72;"></div>
<svg style="left:1222px;top:920px" width="11" height="10" viewBox="0 0 11 10" ><rect x="0.5" y="0.5" width="2" height="2" fill="none" stroke="#1d4c9c" stroke-width="1"/><rect x="4.5" y="0.5" width="2" height="2" fill="none" stroke="#1d4c9c" stroke-width="1"/><rect x="8.5" y="0.5" width="2" height="2" fill="none" stroke="#1d4c9c" stroke-width="1"/><path d="M0.5 4.5 L5.5 9 L10.5 4.5" fill="none" stroke="#1d4c9c" stroke-width="1.2" /></svg>
<div class="a" style="left:1251px;top:0px;width:1px;height:950px;background:#6e6e6e;"></div>
<div class="a" style="left:0px;top:0px;width:1px;height:950px;background:#6e6e6e;"></div>
<div class="a" style="left:0px;top:0px;width:1252px;height:1px;background:#6e6e6e;"></div>
<div class="a" style="left:0px;top:949px;width:1252px;height:1px;background:#6e6e6e;"></div>
<div class="a" style="left:250px;top:490px;width:675px;height:417px;background:#cdcdcd;border:1px solid #1a84f2;"></div>
<div class="a" style="left:251px;top:491px;width:673px;height:25px;background:#00468c;"></div>
<div class="t b w" style="left:256px;top:497.5px;font-size:13px;">Daňová rekapitula<u>c</u>e, typ daně TU</div>
<div class="a" style="left:853px;top:493px;width:1px;height:21px;background:#0a3872;"></div>
<svg style="left:859px;top:497px" width="13" height="13" viewBox="0 0 13 13" ><path d="M5 2.9 H0.6 V12.4 H10.1 V8 M5.2 7.8 L12 1 M7.3 0.7 H12.3 V5.7" fill="none" stroke="#dbe7f5" stroke-width="1.15" /></svg>
<svg style="left:883px;top:498px" width="12" height="12" viewBox="0 0 12 12" ><path d="M0.6 0.6 H11.4 V11.4 H0.6 Z M0.6 5.8 H5.8 V0.6" fill="none" stroke="#dbe7f5" stroke-width="1.2" /></svg>
<svg style="left:904px;top:500px" width="15" height="10" viewBox="0 0 15 10" ><path d="M1 4.6 L5.2 8.8 L14 0.6" fill="none" stroke="#eef4fb" stroke-width="1.15" /></svg>
<div class="t b bl" style="left:547px;top:525px;font-size:13px;">Ceny bez čerpání záloh</div>
<div class="a" style="left:543px;top:542px;width:378px;height:2px;background:#0091cd;"></div>
<div class="t bl" style="left:543px;top:551px;">Netto:</div>
<div class="t r n" style="right:524.5px;top:551px;">332,00 <span class="bl">Kč</span></div>
<div class="t r n" style="right:332.5px;top:551px;">332,0000 <span class="bl">Kč</span></div>
<div class="a" style="left:543px;top:568px;width:378px;height:1px;background:#bdbdbd;"></div>
<div class="t bl" style="left:543px;top:573px;">DPH:</div>
<div class="t r n" style="right:524.5px;top:573px;">71,82 <span class="bl">Kč</span></div>
<div class="t r n" style="right:332.5px;top:573px;">71,8200 <span class="bl">Kč</span></div>
<div class="a" style="left:543px;top:590px;width:378px;height:1px;background:#bdbdbd;"></div>
<div class="t bl b" style="left:543px;top:595px;">Brutto:</div>
<div class="t r n b" style="right:524.5px;top:595px;">404,00 <span class="bl">Kč</span></div>
<div class="t r n b" style="right:332.5px;top:595px;">404,0000 <span class="bl">Kč</span></div>
<div class="a" style="left:543px;top:612px;width:378px;height:1px;background:#bdbdbd;"></div>
<div class="a" style="left:732px;top:549px;width:1px;height:61px;background:#bdbdbd;"></div>
<div class="a" style="left:255px;top:591px;width:17px;height:17px;background:#0a4a9c;"></div>
<svg style="left:255px;top:591px" width="17" height="17" viewBox="0 0 17 17" ><path d="M3.6 8.8 L7 12 L13.4 5" fill="none" stroke="#fff" stroke-width="2" /></svg>
<div class="t bl" style="left:278px;top:592.5px;">DPH</div>
<div class="t bl" style="left:358px;top:573px;">Typ daně</div>
<div class="inp" style="left:351px;top:586px;width:89px;height:23px;background:#d9d9d9;"></div>
<div class="t " style="left:354.5px;top:591.5px;font-size:13px;">TU</div>
<svg style="left:422px;top:593px" width="11" height="10" viewBox="0 0 11 10" ><rect x="0.5" y="0.5" width="2" height="2" fill="none" stroke="#1d4c9c" stroke-width="1"/><rect x="4.5" y="0.5" width="2" height="2" fill="none" stroke="#1d4c9c" stroke-width="1"/><rect x="8.5" y="0.5" width="2" height="2" fill="none" stroke="#1d4c9c" stroke-width="1"/><path d="M0.5 4.5 L5.5 9 L10.5 4.5" fill="none" stroke="#1d4c9c" stroke-width="1.2" /></svg>
<div class="a" style="left:254px;top:612px;width:667px;height:1px;background:#c2c2c2;"></div>
<div class="a" style="left:254px;top:616px;width:667px;height:114px;background:#d6d6d6;border:1px solid #9a9a9a;"></div>
<div class="a" style="left:254px;top:616px;width:667px;height:25px;background:#0091cd;"></div>
<svg style="left:260px;top:622px" width="18" height="17" viewBox="0 0 18 17" ><path d="M0.7 1.6 C3 0.6 6 0.8 7.6 2.4 C9.2 0.8 12.2 0.6 14.5 1.6 V11.6 C12.2 10.6 9.2 10.8 7.6 12.4 C6 10.8 3 10.6 0.7 11.6 Z M7.6 2.4 V12.4" fill="none" stroke="#e6f1f9" stroke-width="1.25" /><path d="M12 13.2 H16.6 L14.3 15.8 Z" fill="#e6f1f9" /></svg>
<div class="t b w" style="left:281.5px;top:622.5px;font-size:13px;">Daňová rekapitulace</div>
<div class="a" style="left:756px;top:618px;width:1px;height:21px;background:#0b7fb5;"></div>
<svg style="left:764px;top:622.5px" width="10" height="13" viewBox="0 0 10 13" ><path d="M0.7 0.8 L9.3 6.2 L0.7 11.6 Z" fill="none" stroke="#d2e9f6" stroke-width="1.1" /></svg>
<div class="a" style="left:780px;top:618px;width:1px;height:21px;background:#0b7fb5;"></div>
<svg style="left:783.0px;top:620.3px" width="20" height="19" viewBox="0 0 20 19" ><path d="M4 5 V0.6 H15 V5 M4 13.4 H0.6 V5 H18.4 V13.4 H15 M4 10.8 H15 V16 H4 Z" fill="none" stroke="#d2e9f6" stroke-width="1.2" /><rect x="15" y="7.6" width="1.4" height="1.2" fill="#d2e9f6"/><path d="M14.6 15.6 H20.0 L17.3 18.4 Z" fill="#d2e9f6" /></svg>
<svg style="left:808.0px;top:620.0px" width="18" height="19" viewBox="0 0 18 19" ><path d="M0.6 5.2 H4 V15.4 H0.6 Z M5.6 8.6 H9.2 V15.4 H5.6 Z M12 15.4 V1.2 H15.2 V15.4" fill="none" stroke="#d2e9f6" stroke-width="1.2" /><path d="M11.6 15.2 H17.4 L14.5 18.2 Z" fill="#d2e9f6" /></svg>
<svg style="left:830.8px;top:621.8000000000001px" width="18" height="18" viewBox="0 0 18 18" ><path d="M7.6 0.5 L10.899999999999999 2.15 V5.749999999999999 L7.6 7.3999999999999995 L4.3 5.749999999999999 V2.15 Z M4.3 2.15 L7.6 4.0 L10.899999999999999 2.15 M7.6 4.0 V7.3999999999999995" fill="none" stroke="#d2e9f6" stroke-width="1.15" /><path d="M4.1 6.7 L7.3999999999999995 8.35 V11.950000000000001 L4.1 13.600000000000001 L0.7999999999999998 11.950000000000001 V8.35 Z M0.7999999999999998 8.35 L4.1 10.2 L7.3999999999999995 8.35 M4.1 10.2 V13.600000000000001" fill="none" stroke="#d2e9f6" stroke-width="1.15" /><path d="M11.1 6.7 L14.399999999999999 8.35 V11.950000000000001 L11.1 13.600000000000001 L7.8 11.950000000000001 V8.35 Z M7.8 8.35 L11.1 10.2 L14.399999999999999 8.35 M11.1 10.2 V13.600000000000001" fill="none" stroke="#d2e9f6" stroke-width="1.15" /><path d="M12.4 14 H17.6 L15.0 16.8 Z" fill="#d2e9f6" /></svg>
<svg style="left:853.2px;top:620.0px" width="19" height="19" viewBox="0 0 19 19" ><path d="M0.6 0.6 H3.8 V16.2 H0.6 Z M12.8 16 V0.6 H16 V16" fill="none" stroke="#d2e9f6" stroke-width="1.2" /><rect x="6" y="0" width="5.6" height="16.6" fill="#d2e9f6"/><path d="M12.4 15.8 H18.2 L15.3 18.8 Z" fill="#d2e9f6" /></svg>
<svg style="left:876.4px;top:620.4px" width="19" height="19" viewBox="0 0 19 19" ><path d="M13.30 8.00 L15.20 8.00" fill="none" stroke="#d2e9f6" stroke-width="0.9" /><path d="M12.98 9.81 L14.77 10.46" fill="none" stroke="#d2e9f6" stroke-width="0.9" /><path d="M12.06 11.41 L13.52 12.63" fill="none" stroke="#d2e9f6" stroke-width="0.9" /><path d="M10.65 12.59 L11.60 14.24" fill="none" stroke="#d2e9f6" stroke-width="0.9" /><path d="M8.92 13.22 L9.25 15.09" fill="none" stroke="#d2e9f6" stroke-width="0.9" /><path d="M7.08 13.22 L6.75 15.09" fill="none" stroke="#d2e9f6" stroke-width="0.9" /><path d="M5.35 12.59 L4.40 14.24" fill="none" stroke="#d2e9f6" stroke-width="0.9" /><path d="M3.94 11.41 L2.48 12.63" fill="none" stroke="#d2e9f6" stroke-width="0.9" /><path d="M3.02 9.81 L1.23 10.46" fill="none" stroke="#d2e9f6" stroke-width="0.9" /><path d="M2.70 8.00 L0.80 8.00" fill="none" stroke="#d2e9f6" stroke-width="0.9" /><path d="M3.02 6.19 L1.23 5.54" fill="none" stroke="#d2e9f6" stroke-width="0.9" /><path d="M3.94 4.59 L2.48 3.37" fill="none" stroke="#d2e9f6" stroke-width="0.9" /><path d="M5.35 3.41 L4.40 1.76" fill="none" stroke="#d2e9f6" stroke-width="0.9" /><path d="M7.08 2.78 L6.75 0.91" fill="none" stroke="#d2e9f6" stroke-width="0.9" /><path d="M8.92 2.78 L9.25 0.91" fill="none" stroke="#d2e9f6" stroke-width="0.9" /><path d="M10.65 3.41 L11.60 1.76" fill="none" stroke="#d2e9f6" stroke-width="0.9" /><path d="M12.06 4.59 L13.52 3.37" fill="none" stroke="#d2e9f6" stroke-width="0.9" /><path d="M12.98 6.19 L14.77 5.54" fill="none" stroke="#d2e9f6" stroke-width="0.9" /><circle cx="8" cy="8" r="5.1" fill="none" stroke="#d2e9f6" stroke-width="1"/><circle cx="8" cy="8" r="2.6" fill="none" stroke="#d2e9f6" stroke-width="1.1"/><path d="M12.6 14.6 H18.0 L15.3 17.6 Z" fill="#d2e9f6" /></svg>
<div class="a" style="left:896px;top:618px;width:1px;height:21px;background:#0b7fb5;"></div>
<svg style="left:899.0px;top:622.6px" width="19" height="11.8" viewBox="0 0 19 11.8" ><path d="M0 1.0 H19" fill="none" stroke="#d2e9f6" stroke-width="1.25" /><path d="M0 5.9 H19" fill="none" stroke="#d2e9f6" stroke-width="1.25" /><path d="M0 10.8 H19" fill="none" stroke="#d2e9f6" stroke-width="1.25" /></svg>
<div class="a" style="left:255px;top:641px;width:663px;height:21px;background:#d2d2d2;"></div>
<div class="a" style="left:255px;top:662px;width:663px;height:22px;background:#bdbdbd;"></div>
<div class="a" style="left:255px;top:684px;width:663px;height:22px;background:#d8d8d8;"></div>
<div class="a" style="left:255px;top:662px;width:663px;height:1px;background:#b0b0b0;"></div>
<div class="a" style="left:255px;top:684px;width:663px;height:1px;background:#b0b0b0;"></div>
<div class="a" style="left:255px;top:706px;width:663px;height:1px;background:#b0b0b0;"></div>
<div class="a" style="left:282px;top:641px;width:1px;height:65px;background:#b0b0b0;"></div>
<div class="a" style="left:310px;top:641px;width:1px;height:65px;background:#b0b0b0;"></div>
<div class="a" style="left:369px;top:641px;width:1px;height:65px;background:#b0b0b0;"></div>
<div class="a" style="left:569px;top:641px;width:1px;height:65px;background:#b0b0b0;"></div>
<div class="a" style="left:685px;top:641px;width:1px;height:65px;background:#b0b0b0;"></div>
<div class="a" style="left:801px;top:641px;width:1px;height:65px;background:#b0b0b0;"></div>
<div class="a" style="left:917px;top:641px;width:1px;height:65px;background:#b0b0b0;"></div>
<div class="t bl" style="left:316px;top:644.5px;font-size:12.5px;">Typ daně</div>
<div class="t bl" style="left:375px;top:644.5px;font-size:12.5px;">Daň</div>
<div class="t r bl" style="right:572px;top:644.5px;font-size:12.5px;letter-spacing:.1px">Brutto M</div>
<div class="t r bl" style="right:456px;top:644.5px;font-size:12.5px;letter-spacing:.1px">Netto M</div>
<div class="t r bl" style="right:340px;top:644.5px;font-size:12.5px;letter-spacing:.1px">DPH M</div>
<div class="t " style="left:316px;top:667.5px;font-size:13px;">TU</div>
<div class="t " style="left:375px;top:667.5px;font-size:13px;">ZS</div>
<div class="t r " style="right:572px;top:667.5px;font-size:13px;">413,82</div>
<div class="t r " style="right:456px;top:667.5px;font-size:13px;">342,00</div>
<div class="t r " style="right:340px;top:667.5px;font-size:13px;">71,82</div>
<div class="t " style="left:316px;top:689.5px;font-size:13px;">TU</div>
<div class="t " style="left:375px;top:689.5px;font-size:13px;">N</div>
<div class="t r " style="right:572px;top:689.5px;font-size:13px;">-10,00</div>
<div class="t r " style="right:456px;top:689.5px;font-size:13px;">-10,00</div>
<div class="t r " style="right:340px;top:689.5px;font-size:13px;">0,00</div>
<div class="a" style="left:254px;top:733px;width:667px;height:1px;background:#c2c2c2;"></div>
<div class="a" style="left:254px;top:763px;width:667px;height:1px;background:#c2c2c2;"></div>
<div class="a" style="left:255px;top:740px;width:17px;height:17px;background:#d6d6d6;border:1px solid #1c4094;"></div>
<div class="t bl" style="left:278px;top:741.5px;">Výpočet DPH shora</div>
<div class="a" style="left:254px;top:767px;width:667px;height:136px;background:#d6d6d6;border:1px solid #8e8e8e;"></div>
<div class="a" style="left:254px;top:767px;width:667px;height:25px;background:#0091cd;"></div>
<svg style="left:260px;top:773px" width="18" height="17" viewBox="0 0 18 17" ><path d="M0.7 1.6 C3 0.6 6 0.8 7.6 2.4 C9.2 0.8 12.2 0.6 14.5 1.6 V11.6 C12.2 10.6 9.2 10.8 7.6 12.4 C6 10.8 3 10.6 0.7 11.6 Z M7.6 2.4 V12.4" fill="none" stroke="#e6f1f9" stroke-width="1.25" /><path d="M12 13.2 H16.6 L14.3 15.8 Z" fill="#e6f1f9" /></svg>
<div class="t b w" style="left:281.5px;top:773.5px;font-size:13px;">Položky dokladů DPH</div>
<div class="a" style="left:780px;top:769px;width:1px;height:21px;background:#0b7fb5;"></div>
<svg style="left:783.0px;top:771.3px" width="20" height="19" viewBox="0 0 20 19" ><path d="M4 5 V0.6 H15 V5 M4 13.4 H0.6 V5 H18.4 V13.4 H15 M4 10.8 H15 V16 H4 Z" fill="none" stroke="#d2e9f6" stroke-width="1.2" /><rect x="15" y="7.6" width="1.4" height="1.2" fill="#d2e9f6"/><path d="M14.6 15.6 H20.0 L17.3 18.4 Z" fill="#d2e9f6" /></svg>
<svg style="left:808.0px;top:771.0px" width="18" height="19" viewBox="0 0 18 19" ><path d="M0.6 5.2 H4 V15.4 H0.6 Z M5.6 8.6 H9.2 V15.4 H5.6 Z M12 15.4 V1.2 H15.2 V15.4" fill="none" stroke="#d2e9f6" stroke-width="1.2" /><path d="M11.6 15.2 H17.4 L14.5 18.2 Z" fill="#d2e9f6" /></svg>
<svg style="left:830.8px;top:772.8000000000001px" width="18" height="18" viewBox="0 0 18 18" ><path d="M7.6 0.5 L10.899999999999999 2.15 V5.749999999999999 L7.6 7.3999999999999995 L4.3 5.749999999999999 V2.15 Z M4.3 2.15 L7.6 4.0 L10.899999999999999 2.15 M7.6 4.0 V7.3999999999999995" fill="none" stroke="#d2e9f6" stroke-width="1.15" /><path d="M4.1 6.7 L7.3999999999999995 8.35 V11.950000000000001 L4.1 13.600000000000001 L0.7999999999999998 11.950000000000001 V8.35 Z M0.7999999999999998 8.35 L4.1 10.2 L7.3999999999999995 8.35 M4.1 10.2 V13.600000000000001" fill="none" stroke="#d2e9f6" stroke-width="1.15" /><path d="M11.1 6.7 L14.399999999999999 8.35 V11.950000000000001 L11.1 13.600000000000001 L7.8 11.950000000000001 V8.35 Z M7.8 8.35 L11.1 10.2 L14.399999999999999 8.35 M11.1 10.2 V13.600000000000001" fill="none" stroke="#d2e9f6" stroke-width="1.15" /><path d="M12.4 14 H17.6 L15.0 16.8 Z" fill="#d2e9f6" /></svg>
<svg style="left:853.2px;top:771.0px" width="19" height="19" viewBox="0 0 19 19" ><path d="M0.6 0.6 H3.8 V16.2 H0.6 Z M12.8 16 V0.6 H16 V16" fill="none" stroke="#d2e9f6" stroke-width="1.2" /><rect x="6" y="0" width="5.6" height="16.6" fill="#d2e9f6"/><path d="M12.4 15.8 H18.2 L15.3 18.8 Z" fill="#d2e9f6" /></svg>
<svg style="left:876.4px;top:771.4px" width="19" height="19" viewBox="0 0 19 19" ><path d="M13.30 8.00 L15.20 8.00" fill="none" stroke="#d2e9f6" stroke-width="0.9" /><path d="M12.98 9.81 L14.77 10.46" fill="none" stroke="#d2e9f6" stroke-width="0.9" /><path d="M12.06 11.41 L13.52 12.63" fill="none" stroke="#d2e9f6" stroke-width="0.9" /><path d="M10.65 12.59 L11.60 14.24" fill="none" stroke="#d2e9f6" stroke-width="0.9" /><path d="M8.92 13.22 L9.25 15.09" fill="none" stroke="#d2e9f6" stroke-width="0.9" /><path d="M7.08 13.22 L6.75 15.09" fill="none" stroke="#d2e9f6" stroke-width="0.9" /><path d="M5.35 12.59 L4.40 14.24" fill="none" stroke="#d2e9f6" stroke-width="0.9" /><path d="M3.94 11.41 L2.48 12.63" fill="none" stroke="#d2e9f6" stroke-width="0.9" /><path d="M3.02 9.81 L1.23 10.46" fill="none" stroke="#d2e9f6" stroke-width="0.9" /><path d="M2.70 8.00 L0.80 8.00" fill="none" stroke="#d2e9f6" stroke-width="0.9" /><path d="M3.02 6.19 L1.23 5.54" fill="none" stroke="#d2e9f6" stroke-width="0.9" /><path d="M3.94 4.59 L2.48 3.37" fill="none" stroke="#d2e9f6" stroke-width="0.9" /><path d="M5.35 3.41 L4.40 1.76" fill="none" stroke="#d2e9f6" stroke-width="0.9" /><path d="M7.08 2.78 L6.75 0.91" fill="none" stroke="#d2e9f6" stroke-width="0.9" /><path d="M8.92 2.78 L9.25 0.91" fill="none" stroke="#d2e9f6" stroke-width="0.9" /><path d="M10.65 3.41 L11.60 1.76" fill="none" stroke="#d2e9f6" stroke-width="0.9" /><path d="M12.06 4.59 L13.52 3.37" fill="none" stroke="#d2e9f6" stroke-width="0.9" /><path d="M12.98 6.19 L14.77 5.54" fill="none" stroke="#d2e9f6" stroke-width="0.9" /><circle cx="8" cy="8" r="5.1" fill="none" stroke="#d2e9f6" stroke-width="1"/><circle cx="8" cy="8" r="2.6" fill="none" stroke="#d2e9f6" stroke-width="1.1"/><path d="M12.6 14.6 H18.0 L15.3 17.6 Z" fill="#d2e9f6" /></svg>
<div class="a" style="left:896px;top:769px;width:1px;height:21px;background:#0b7fb5;"></div>
<svg style="left:899.0px;top:773.6px" width="19" height="11.8" viewBox="0 0 19 11.8" ><path d="M0 1.0 H19" fill="none" stroke="#d2e9f6" stroke-width="1.25" /><path d="M0 5.9 H19" fill="none" stroke="#d2e9f6" stroke-width="1.25" /><path d="M0 10.8 H19" fill="none" stroke="#d2e9f6" stroke-width="1.25" /></svg>
<div class="a" style="left:255px;top:792px;width:665px;height:21px;background:#d2d2d2;"></div>
<div class="a" style="left:255px;top:813px;width:665px;height:1px;background:#b0b0b0;"></div>
<div class="a" style="left:335px;top:792px;width:1px;height:21px;background:#b0b0b0;"></div>
<div class="a" style="left:417px;top:792px;width:1px;height:21px;background:#b0b0b0;"></div>
<div class="a" style="left:493px;top:792px;width:1px;height:21px;background:#b0b0b0;"></div>
<div class="a" style="left:521px;top:792px;width:1px;height:21px;background:#b0b0b0;"></div>
<div class="a" style="left:549px;top:792px;width:1px;height:21px;background:#b0b0b0;"></div>
<div class="a" style="left:630px;top:792px;width:1px;height:21px;background:#b0b0b0;"></div>
<div class="a" style="left:689px;top:792px;width:1px;height:21px;background:#b0b0b0;"></div>
<div class="a" style="left:717px;top:792px;width:1px;height:21px;background:#b0b0b0;"></div>
<div class="a" style="left:832px;top:792px;width:1px;height:21px;background:#b0b0b0;"></div>
<div class="t bl" style="left:260px;top:796.5px;">Číslo položky</div>
<div class="t bl" style="left:341px;top:796.5px;">Potvr./Storno</div>
<div class="t bl" style="left:423px;top:796.5px;">Typ dokladu</div>
<div class="t bl" style="left:499px;top:796.5px;width:22px;overflow:hidden">Číslo</div>
<div class="t bl" style="left:527px;top:796.5px;">Dod</div>
<div class="t bl" style="left:564px;top:796.5px;">Datum UZP</div>
<div class="t bl" style="left:637px;top:796.5px;">Typ daně</div>
<div class="t bl" style="left:695px;top:796.5px;width:22px;overflow:hidden"><span style="display:inline-block;transform:scaleX(.84);transform-origin:0 50%">Sazba</span></div>
<div class="t r bl" style="right:424px;top:796.5px;">Netto</div>
<div class="a" style="left:255px;top:848px;width:665px;height:21px;background:#bdbdbd;"></div>
<div class="t c " style="left:527.0px;width:120px;top:853px;font-size:13px;">Žádné údaje</div>
<div class="a" style="left:255px;top:885px;width:665px;height:17px;background:#f0f0f0;"></div>
<div class="a" style="left:255px;top:885px;width:665px;height:1px;background:#fff;"></div>
<div class="a" style="left:272px;top:886px;width:17px;height:15px;background:#cdcdcd;"></div>
<svg style="left:260px;top:889px" width="6" height="9" viewBox="0 0 6 9" ><path d="M5 1 L1.4 4.5 L5 8" fill="none" stroke="#484848" stroke-width="2" /></svg>
<svg style="left:909px;top:889px" width="6" height="9" viewBox="0 0 6 9" ><path d="M1 1 L4.6 4.5 L1 8" fill="none" stroke="#484848" stroke-width="2" /></svg>
<div class="a" style="left:303px;top:106px;width:600px;height:352px;background:#f0f0f0;border:1px solid #1a84f2;"></div>
<div class="a" style="left:304px;top:107px;width:598px;height:25px;background:#0054a6;"></div>
<div class="t b w" style="left:308px;top:113.5px;font-size:13px;letter-spacing:0px">Položka daňové rekapitulace</div>
<div class="a" style="left:831px;top:109px;width:1px;height:22px;background:#06458a;"></div>
<svg style="left:838px;top:114px" width="12" height="12" viewBox="0 0 12 12" ><path d="M0.6 0.6 H11.4 V11.4 H0.6 Z M0.6 5.8 H5.8 V0.6" fill="none" stroke="#f4f8fc" stroke-width="1.25" /></svg>
<svg style="left:861px;top:114px" width="12" height="12" viewBox="0 0 12 12" ><path d="M0.6 0.6 H11.4 V11.4 H0.6 Z" fill="none" stroke="#f4f8fc" stroke-width="1.25" /></svg>
<svg style="left:884px;top:114px" width="12" height="12" viewBox="0 0 12 12" ><path d="M0.3 0.3 L11.5 11.5 M11.5 0.3 L0.3 11.5" fill="none" stroke="#f4f8fc" stroke-width="1.25" /></svg>
<div class="a" style="left:307px;top:135px;width:592px;height:58px;background:#fcfcfc;border:1px solid #cfcfcf;"></div>
<svg style="left:339px;top:149px" width="13" height="16" viewBox="0 0 13 16" ><path d="M6.5 1 V16 M1 6.5 L6.5 1 L12 6.5" fill="none" stroke="#1d5aa8" stroke-width="1.3" /></svg>
<svg style="left:398px;top:149px" width="13" height="16" viewBox="0 0 13 16" ><path d="M6.5 0 V15 M1 9.5 L6.5 15 L12 9.5" fill="none" stroke="#1d5aa8" stroke-width="1.3" /></svg>
<svg style="left:451px;top:148px" width="16" height="18" viewBox="0 0 16 18" ><path d="M1.5 8 A6.5 6.5 0 0 1 13.5 4.5 M14 1 V5 H10 M14.5 10 A6.5 6.5 0 0 1 2.5 13.5 M2 17 V13 H6" fill="none" stroke="#cfcfcf" stroke-width="1.2" /></svg>
<div class="t c " style="left:305.0px;width:80px;top:172px;">Předchozí</div>
<div class="t c " style="left:374.0px;width:60px;top:172px;">Další</div>
<div class="t c " style="left:424.0px;width:70px;top:172px;color:#9a9a9a">Obnovit</div>
<div class="a" style="left:841px;top:143px;width:1px;height:42px;background:#c6c6c6;"></div>
<svg style="left:858.0px;top:148.8px" width="23" height="15.4" viewBox="0 0 23 15.4" ><path d="M0 1.0 H23" fill="none" stroke="#1d5aa8" stroke-width="1.4" /><path d="M0 7.7 H23" fill="none" stroke="#1d5aa8" stroke-width="1.4" /><path d="M0 14.4 H23" fill="none" stroke="#1d5aa8" stroke-width="1.4" /></svg>
<div class="t c " style="left:839.0px;width:60px;top:172px;">Menu</div>
<div class="t bl" style="left:314px;top:200px;">Daňová <u>s</u>kupina</div>
<div class="t bl" style="left:464px;top:200px;"><u>T</u>yp daně :</div>
<div class="inpw" style="left:307px;top:214px;width:144px;height:23px;"></div>
<div class="a" style="left:310px;top:217px;width:14px;height:16px;background:#0078d7;"></div>
<div class="t w" style="left:310.5px;top:219px;font-size:12px;letter-spacing:-.5px">ZS</div>
<div class="a" style="left:324px;top:217px;width:1px;height:16px;background:#e07b39;"></div>
<svg style="left:434px;top:221px" width="11" height="10" viewBox="0 0 11 10" ><rect x="0.5" y="0.5" width="2" height="2" fill="none" stroke="#1d4c9c" stroke-width="1"/><rect x="4.5" y="0.5" width="2" height="2" fill="none" stroke="#1d4c9c" stroke-width="1"/><rect x="8.5" y="0.5" width="2" height="2" fill="none" stroke="#1d4c9c" stroke-width="1"/><path d="M0.5 4.5 L5.5 9 L10.5 4.5" fill="none" stroke="#1d4c9c" stroke-width="1.2" /></svg>
<div class="inpw" style="left:457px;top:214px;width:218px;height:23px;"></div>
<div class="t " style="left:461px;top:219.5px;font-size:13px;">TU</div>
<svg style="left:658px;top:221px" width="11" height="10" viewBox="0 0 11 10" ><rect x="0.5" y="0.5" width="2" height="2" fill="none" stroke="#1d4c9c" stroke-width="1"/><rect x="4.5" y="0.5" width="2" height="2" fill="none" stroke="#1d4c9c" stroke-width="1"/><rect x="8.5" y="0.5" width="2" height="2" fill="none" stroke="#1d4c9c" stroke-width="1"/><path d="M0.5 4.5 L5.5 9 L10.5 4.5" fill="none" stroke="#1d4c9c" stroke-width="1.2" /></svg>
<div class="a" style="left:682px;top:217px;width:17px;height:17px;background:#0054a6;"></div>
<svg style="left:682px;top:217px" width="17" height="17" viewBox="0 0 17 17" ><path d="M3.6 8.8 L7 12 L13.4 5" fill="none" stroke="#fff" stroke-width="2" /></svg>
<div class="t bl" style="left:705px;top:218.5px;">DPH</div>
<div class="a" style="left:307px;top:243px;width:592px;height:211px;background:#f0f0f0;border:1px solid #c6c6c6;"></div>
<div class="a" style="left:307px;top:243px;width:592px;height:25px;background:#00a9ee;"></div>
<div class="t b w" style="left:311px;top:249.5px;font-size:13px;">Ceny</div>
<div class="a" style="left:874px;top:245px;width:1px;height:21px;background:#0795d2;"></div>
<svg style="left:879.75px;top:252.1px" width="13.5" height="6.8" viewBox="0 0 13.5 6.8" ><path d="M0.5 6.3 L6.75 0.7 L13.0 6.3" fill="none" stroke="#d6ecf7" stroke-width="1.15" /></svg>
<div class="t bl" style="left:321px;top:275px;"><u>N</u>etto cena</div>
<div class="inpw" style="left:314px;top:289px;width:286px;height:23px;"></div>
<div class="t r " style="right:656px;top:294.5px;font-size:13px;">342,00 <span class="bl">Kč</span></div>
<div class="inpw" style="left:607px;top:289px;width:285px;height:23px;"></div>
<div class="t r " style="right:364px;top:294.5px;font-size:13px;">342,00 <span class="bl">Kč</span></div>
<div class="a" style="left:314px;top:315px;width:286px;height:1px;background:#dedede;"></div>
<div class="a" style="left:607px;top:315px;width:285px;height:1px;background:#dedede;"></div>
<div class="t bl" style="left:321px;top:320px;">Netto cena položek</div>
<div class="inpw" style="left:314px;top:334px;width:286px;height:23px;"></div>
<div class="t r " style="right:656px;top:339.5px;font-size:13px;">342,00 <span class="bl">Kč</span></div>
<div class="inpw" style="left:607px;top:334px;width:285px;height:23px;"></div>
<div class="t r " style="right:364px;top:339.5px;font-size:13px;">342,00 <span class="bl">Kč</span></div>
<div class="a" style="left:314px;top:360px;width:286px;height:1px;background:#dedede;"></div>
<div class="a" style="left:607px;top:360px;width:285px;height:1px;background:#dedede;"></div>
<div class="t bl" style="left:321px;top:365px;"><u>D</u>PH</div>
<div class="inpw" style="left:314px;top:379px;width:286px;height:23px;"></div>
<div class="t r " style="right:656px;top:384.5px;font-size:13px;">71,82 <span class="bl">Kč</span></div>
<div class="inpw" style="left:607px;top:379px;width:285px;height:23px;"></div>
<div class="t r " style="right:364px;top:384.5px;font-size:13px;">71,82 <span class="bl">Kč</span></div>
<div class="a" style="left:314px;top:405px;width:286px;height:1px;background:#dedede;"></div>
<div class="a" style="left:607px;top:405px;width:285px;height:1px;background:#dedede;"></div>
<div class="t bl" style="left:321px;top:410px;"><u>B</u>rutto cena</div>
<div class="inpw" style="left:314px;top:424px;width:286px;height:23px;"></div>
<div class="t r " style="right:656px;top:429.5px;font-size:13px;">413,82 <span class="bl">Kč</span></div>
<div class="inpw" style="left:607px;top:424px;width:285px;height:23px;"></div>
<div class="t r " style="right:364px;top:429.5px;font-size:13px;">413,82 <span class="bl">Kč</span></div>
<div class="a" style="left:603px;top:274px;width:1px;height:173px;background:#dedede;"></div>
</body></html>
